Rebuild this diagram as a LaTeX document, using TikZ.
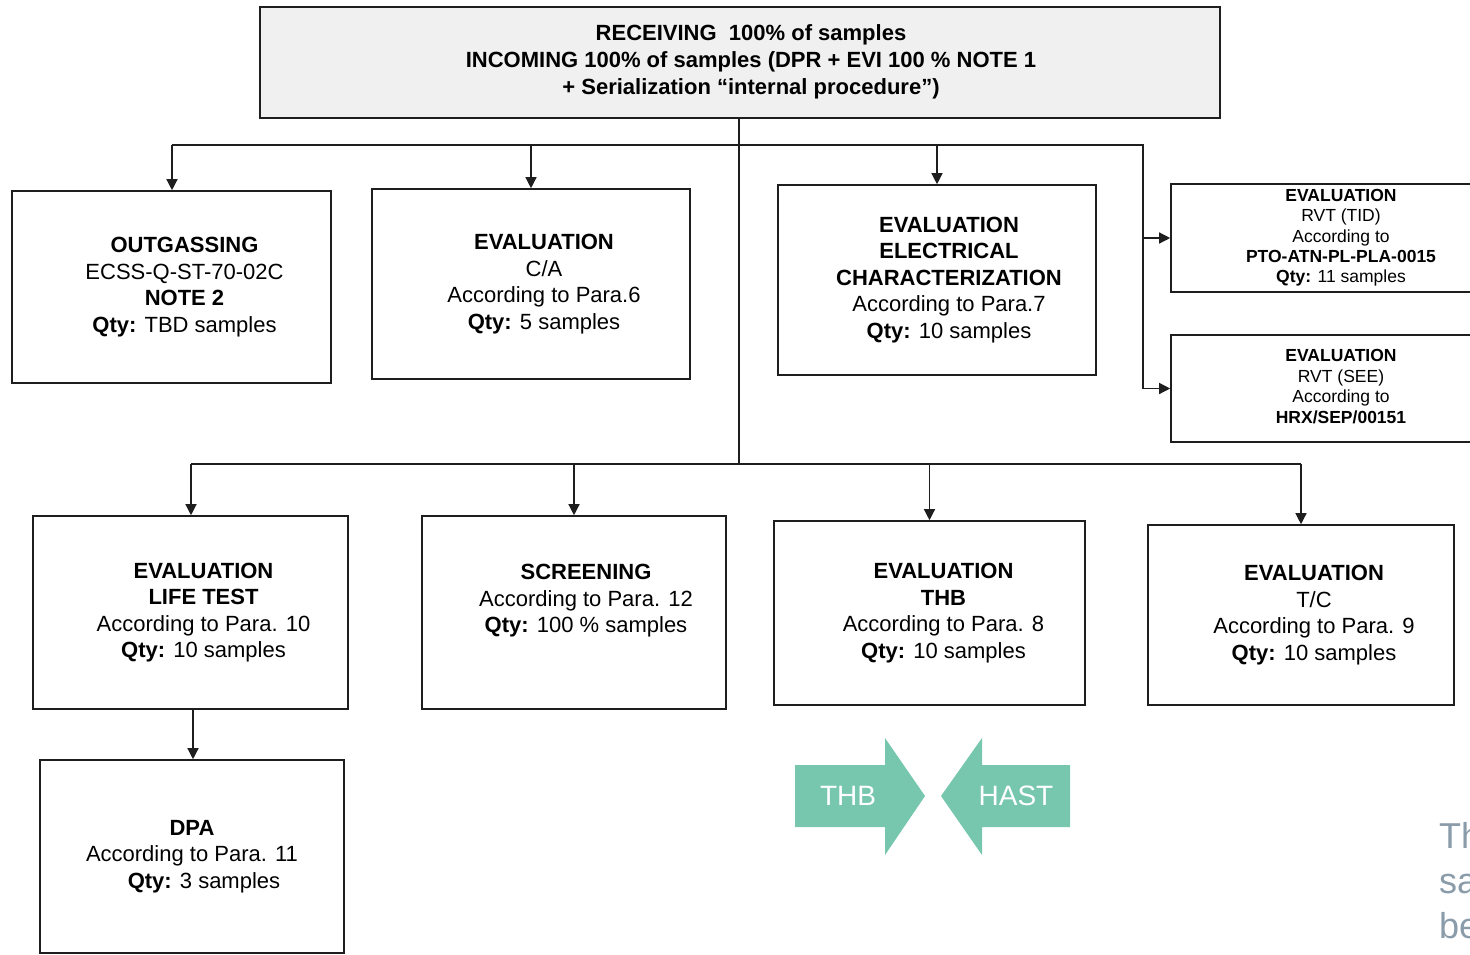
\documentclass[tikz,border=0pt]{standalone}
\usepackage{fontspec}
\setmainfont{Liberation Sans}
\usepackage{tikz}
\usetikzlibrary{arrows.meta, positioning}
\usepackage{xcolor}
\definecolor{boxline}{RGB}{30, 30, 30}
\definecolor{headfill}{RGB}{240, 240, 240}
\definecolor{teal}{RGB}{118, 199, 174}
\definecolor{slate}{RGB}{138, 156, 170}

\newcommand{\boxlines}[2][26pt]{\hspace*{#1}\begin{tabular}{@{}c@{}}#2\end{tabular}}

\tikzset{
  box/.style={draw=boxline, line width=1.6pt, inner sep=0pt, font=\fontsize{22}{26.5}\selectfont},
  smallbox/.style={box, font=\fontsize{17.5}{20.4}\selectfont},
  wire/.style={line width=1.3pt, draw=boxline},
  link/.style={wire, -{Triangle[length=11pt, width=11pt]}},
  bigarrow/.style={fill=teal},
  arrowtext/.style={text=white, font=\fontsize{28}{30}\selectfont},
}

\begin{document}
\begin{tikzpicture}[x=1pt, y=-1pt]
    \useasboundingbox (0,0) rectangle (1470,954);

    \node[box, fill=headfill, minimum width=960pt, minimum height=111pt, font=\bfseries\fontsize{22}{27}\selectfont] (receiving) at (740,62.5) {\boxlines[22pt]{RECEIVING\ \ 100\% of samples\\INCOMING 100\% of samples (DPR + EVI 100 \% NOTE 1\\+ Serialization “internal procedure”)}};

    \node[box, minimum width=319pt, minimum height=192pt] (outgas) at (171.5,287) {\boxlines{\textbf{OUTGASSING}\\ECSS-Q-ST-70-02C\\\textbf{NOTE 2}\\\textbf{Qty:} TBD samples}};
    \node[box, minimum width=318pt, minimum height=190pt] (ca) at (531,284) {\boxlines{\textbf{EVALUATION}\\C/A\\According to Para.6\\\textbf{Qty:} 5 samples}};
    \node[box, minimum width=318pt, minimum height=190pt] (elec) at (937,280) {\boxlines[24pt]{\textbf{EVALUATION}\\\textbf{ELECTRICAL}\\\textbf{CHARACTERIZATION}\\According to Para.7\\\textbf{Qty:} 10 samples}};
    \node[smallbox, minimum width=340pt, minimum height=108pt] (tid) at (1341,238) {\boxlines[0pt]{\textbf{EVALUATION}\\RVT (TID)\\According to\\\textbf{PTO-ATN-PL-PLA-0015}\\\textbf{Qty:} 11 samples}};
    \node[smallbox, minimum width=340pt, minimum height=107pt] (see) at (1341,388.5) {\boxlines[0pt]{\textbf{EVALUATION}\\RVT (SEE)\\According to\\\textbf{HRX/SEP/00151}}};

    \node[box, minimum width=315pt, minimum height=193pt] (life) at (190.5,612.5) {\boxlines{\textbf{EVALUATION}\\\textbf{LIFE TEST}\\According to Para. 10\\\textbf{Qty:} 10 samples}};
    \node[box, minimum width=304pt, minimum height=193pt, text height=30pt, text depth=43pt] (screen) at (574,612.5) {\boxlines[24pt]{\textbf{SCREENING}\\According to Para. 12\\\textbf{Qty:} 100 \% samples}};
    \node[box, minimum width=311pt, minimum height=184pt] (thb) at (929.5,613) {\boxlines[28pt]{\textbf{EVALUATION}\\\textbf{THB}\\According to Para. 8\\\textbf{Qty:} 10 samples}};
    \node[box, minimum width=306pt, minimum height=180pt] (tc) at (1301,615) {\boxlines{\textbf{EVALUATION}\\T/C\\According to Para. 9\\\textbf{Qty:} 10 samples}};
    \node[box, minimum width=304pt, minimum height=193pt] (dpa) at (192,856.5) {\boxlines[0pt]{\textbf{DPA}\\According to Para. 11\\\hspace*{24pt}\textbf{Qty:} 3 samples}};

    \coordinate (topleft) at (172,145);
    \coordinate (topright) at (1143,145);
    \coordinate (lowleft) at (191,464);
    \coordinate (lowright) at (1301,464);
    \coordinate (lowmid) at (739,464);

    \draw[wire] (receiving.south -| lowmid) -- (lowmid);
    \draw[wire] (topleft) -- (topright) -- (topright |- see.west);
    \draw[wire] (lowleft) -- (lowright);
    \draw[link] (topleft) -- (topleft |- outgas.north);
    \draw[link] (ca.north |- topleft) -- (ca.north);
    \draw[link] (elec.north |- topleft) -- (elec.north);
    \draw[link] (topright |- tid.west) -- (tid.west);
    \draw[link] (topright |- see.west) -- (see.west);
    \draw[link] (lowleft) -- (lowleft |- life.north);
    \draw[link] (screen.north |- lowleft) -- (screen.north);
    \draw[link] (thb.north |- lowleft) -- (thb.north);
    \draw[link] (lowright) -- (lowright |- tc.north);
    \draw[link] (193,0 |- life.south) -- (193,0 |- dpa.north);

    \fill[bigarrow] (795,765) -- (885,765) -- (885,738) -- (925,796) -- (885,855) -- (885,827) -- (795,827) -- cycle;
    \fill[bigarrow] (1070,765) -- (982,765) -- (982,738) -- (941,796) -- (982,855) -- (982,827) -- (1070,827) -- cycle;
    \node[arrowtext] (thbtag) at (848,796) {THB};
    \node[arrowtext] (hasttag) at (1016,796) {HAST};

    \node[anchor=north west, align=left, inner sep=0pt, text=slate, font=\fontsize{36}{45}\selectfont] (note) at (1439,822) {Th\\sa\\be};
\end{tikzpicture}
\end{document}
